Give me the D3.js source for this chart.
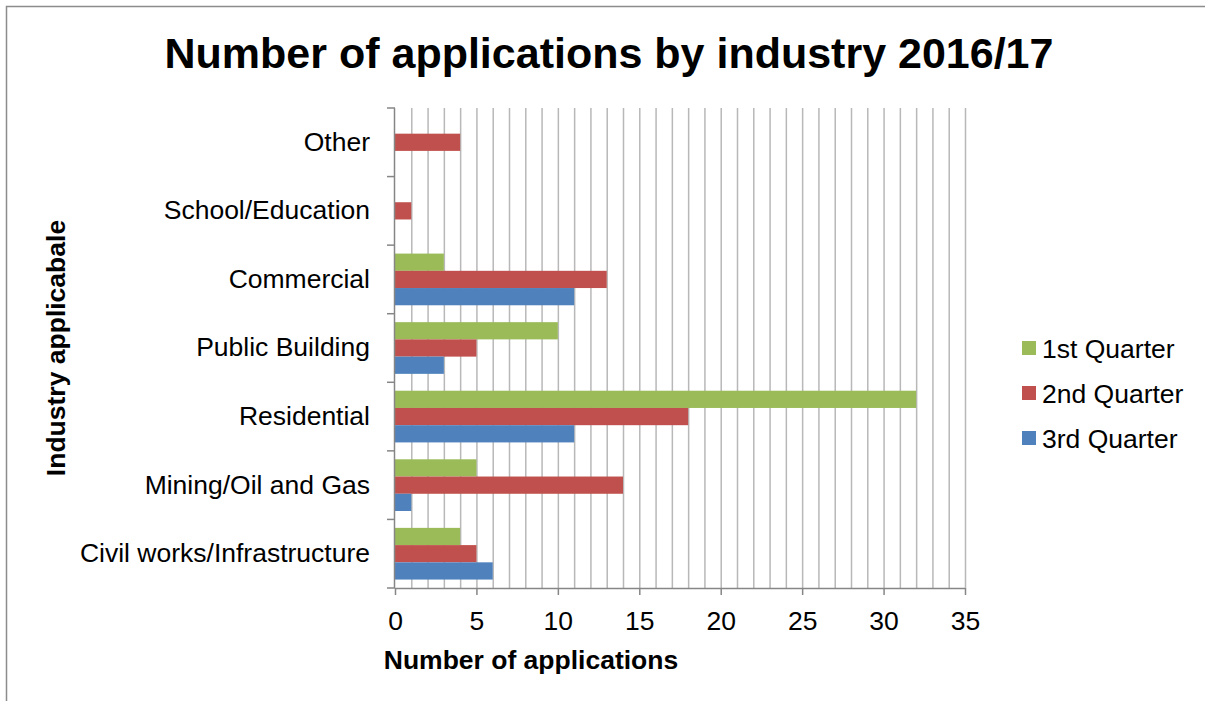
<!DOCTYPE html>
<html><head><meta charset="utf-8">
<script src="https://cdn.jsdelivr.net/npm/d3@7"></script>
<style>body{margin:0;background:#fff}svg{display:block;font-family:"Liberation Sans",Arial,sans-serif}</style>
</head><body><svg id="c" width="1205" height="701"></svg>
<script>
const categories = ["Civil works/Infrastructure","Mining/Oil and Gas","Residential","Public Building","Commercial","School/Education","Other"];
const seriesNames = ["1st Quarter","2nd Quarter","3rd Quarter"];
const q1 = [4,5,32,10,3,0,0];
const q2 = [5,14,18,5,13,1,4];
const q3 = [6,1,11,3,11,0,0];
const colors = ["#9BBB59","#C0504D","#4F81BD"];
const xTicks = [0,5,10,15,20,25,30,35];

const FS = 26.5;
const svg = d3.select("#c");
svg.append("path").attr("d","M6.5,701V6.5H1205").attr("fill","none").attr("stroke","#8c8c8c").attr("stroke-width",1.5);

const L=395,R=965,T=108,B=588;
const x = d3.scaleLinear().domain([0,35]).range([L,R]);
const yCats = categories.slice().reverse();
const y = d3.scaleBand().domain(yCats).range([T,B]).paddingInner(0).paddingOuter(0);
const inner = d3.scaleBand().domain(seriesNames).range([0,y.bandwidth()]).paddingInner(0).paddingOuter(0.49);

// gridlines
svg.append("g").selectAll("line").data(d3.range(1,36)).join("line")
  .attr("x1",d=>x(d)+0.5).attr("x2",d=>x(d)+0.5).attr("y1",T).attr("y2",B)
  .attr("stroke","#b8b8b8").attr("stroke-width",1.5);

const series=[q1,q2,q3];
const g=svg.append("g");
series.forEach((vals,si)=>{
  g.selectAll(null).data(categories.map((c,i)=>({c,v:vals[i]}))).join("rect")
   .attr("x",x(0)).attr("y",d=>y(d.c)+inner(seriesNames[si]))
   .attr("width",d=>x(d.v)-x(0)).attr("height",inner.bandwidth())
   .attr("fill",colors[si]);
});

// x axis
const xa = svg.append("g").attr("transform",`translate(0,${B})`)
  .call(d3.axisBottom(x).tickValues(xTicks).tickSize(7).tickPadding(16).tickFormat(d3.format("d")));
xa.select(".domain").attr("stroke","#868686").attr("stroke-width",1.5).attr("d",`M${L},0.5H${R}`);
xa.selectAll(".tick line").attr("stroke","#868686").attr("stroke-width",1.5);
xa.selectAll(".tick text").attr("font-size",FS).attr("fill","#000").attr("font-family","Liberation Sans, Arial, sans-serif");

// y axis
const ya = svg.append("g").attr("transform",`translate(${L},0)`)
  .call(d3.axisLeft(y).tickSize(0).tickPadding(25));
ya.select(".domain").attr("stroke","#868686").attr("stroke-width",1.5).attr("d",`M-0.5,${T}V${B}`);
ya.selectAll(".tick text").attr("font-size",FS).attr("fill","#000").attr("font-family","Liberation Sans, Arial, sans-serif");
// boundary ticks
svg.append("g").selectAll("line").data(d3.range(0,categories.length+1)).join("line")
  .attr("x1",L-8).attr("x2",L).attr("y1",d=>T+d*y.bandwidth()).attr("y2",d=>T+d*y.bandwidth())
  .attr("stroke","#868686").attr("stroke-width",1.5);

// title
svg.append("text").attr("x",609).attr("y",68).attr("text-anchor","middle")
  .attr("font-size",43).attr("font-weight","bold").text("Number of applications by industry 2016/17");
svg.append("text").attr("x",531).attr("y",669).attr("text-anchor","middle")
  .attr("font-size",FS).attr("font-weight","bold").text("Number of applications");
svg.append("text").attr("transform","translate(65,348) rotate(-90)").attr("text-anchor","middle")
  .attr("font-size",FS).attr("font-weight","bold").text("Industry applicabale");

// legend
const lg = svg.append("g").attr("transform","translate(1022,348)");
seriesNames.forEach((n,i)=>{
  lg.append("rect").attr("x",0).attr("y",i*45-7).attr("width",14).attr("height",14).attr("fill",colors[i]);
  lg.append("text").attr("x",20).attr("y",i*45+9.5).attr("font-size",FS).text(n);
});
</script></body></html>
